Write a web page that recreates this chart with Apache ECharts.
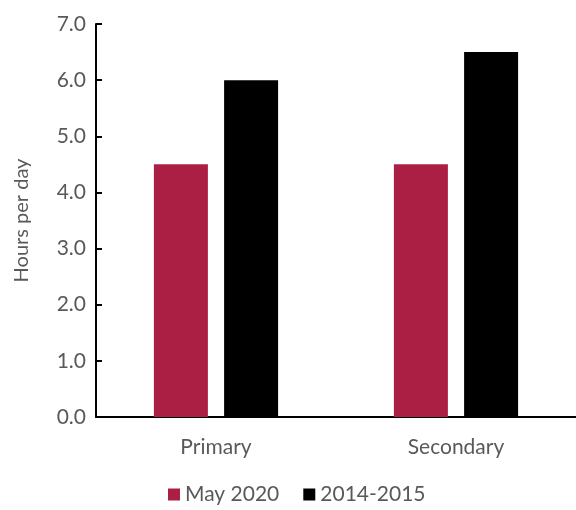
<!DOCTYPE html>
<html>
<head>
    <meta charset="utf-8">
    <title>ECharts</title>
    <script src="https://cdn.jsdelivr.net/npm/echarts@6/dist/echarts.min.js"></script>
</head>
<body style="margin:0">
<div id="main" style="width: 576px;height:510px;"></div>
<script type="text/javascript">
    var categories = ['Primary', 'Secondary'];
    var may2020 = [4.5, 4.5];
    var y2014 = [6.0, 6.5];
    var yTicks = [0, 7, 1];

    var myChart = echarts.init(document.getElementById('main'));
    var font = 'Lato';
    var option = {
        animation: false,
        textStyle: {fontFamily: font},
        grid: {left: 96, right: -7, top: 24, bottom: 93},
        legend: {
            data: ['May 2020', '2014-2015'],
            bottom: 0,
            left: 163,
            itemWidth: 12,
            itemHeight: 12,
            itemGap: 24,
            icon: 'rect',
            textStyle: {color: '#595959', fontSize: 21, fontFamily: font}
        },
        xAxis: {
            type: 'category',
            data: categories,
            axisLine: {lineStyle: {color: '#000', width: 2}},
            axisTick: {show: false},
            axisLabel: {color: '#595959', fontSize: 21, margin: 20}
        },
        yAxis: {
            type: 'value',
            min: yTicks[0],
            max: yTicks[1],
            interval: yTicks[2],
            name: 'Hours per day',
            nameLocation: 'middle',
            nameGap: 64,
            nameTextStyle: {color: '#595959', fontSize: 20},
            axisLine: {show: true, lineStyle: {color: '#000', width: 2}},
            axisTick: {show: true, inside: true, length: 6, lineStyle: {color: '#000', width: 2}},
            splitLine: {show: false},
            axisLabel: {
                color: '#595959', fontSize: 21, margin: 10,
                formatter: function (v) { return v.toFixed(1); }
            }
        },
        series: [
            {
                name: 'May 2020',
                type: 'bar',
                data: may2020,
                barWidth: 54,
                barGap: '30%',
                itemStyle: {color: '#AB1F45'}
            },
            {
                name: '2014-2015',
                type: 'bar',
                data: y2014,
                barWidth: 54,
                itemStyle: {color: '#000000'}
            }
        ]
    };
    myChart.setOption(option);
</script>
</body>
</html>
